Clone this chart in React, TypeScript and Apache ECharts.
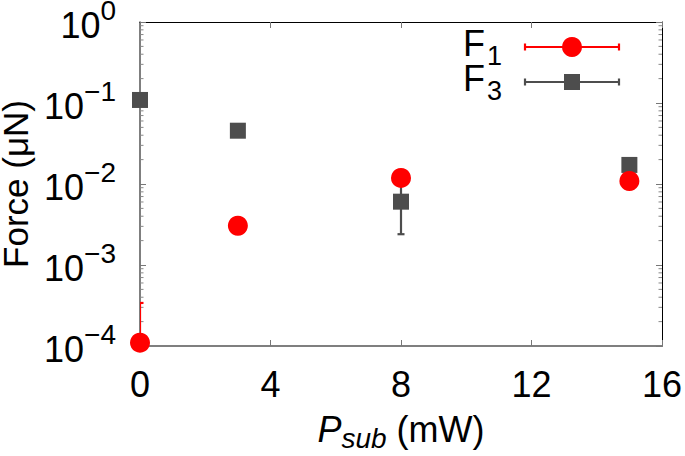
import { useEffect, useRef } from "react";
import * as echarts from "echarts";

// ---- data ----
const xTickValues = [0, 4, 8, 12, 16];
const yDecadeExponents = [-4, -3, -2, -1, 0];
const minorMultipliers = [2, 3, 4, 5, 6, 7, 8, 9];

const f1X = [0, 3, 8, 15];
const f1Y = [1.1e-4, 3.05e-3, 1.19e-2, 1.09e-2];
const f1Low = [1.0e-4, 3.05e-3, 1.19e-2, 1.09e-2];
const f1High = [3.4e-4, 3.05e-3, 1.19e-2, 1.09e-2];

const f3X = [0, 3, 8, 15];
const f3Y = [0.109, 0.0455, 0.00605, 0.0172];
const f3Low = [0.109, 0.0455, 0.0024, 0.0172];
const f3High = [0.109, 0.0455, 0.0097, 0.0172];

const legendNames = ["F", "F"];
const legendSubs = ["1", "3"];

const RED = "#ff0000";
const GRAY = "#4d4d4d";
const FONT = "'Liberation Sans', Arial, Helvetica, sans-serif";

export default function App() {
  const ref = useRef<HTMLDivElement>(null);

  useEffect(() => {
    if (!ref.current) return;
    const chart = echarts.init(ref.current, undefined, { renderer: "svg" });

    const minorTicks: number[][] = [];
    for (let i = 0; i < yDecadeExponents.length - 1; i++) {
      for (const m of minorMultipliers) {
        minorTicks.push([0, m * Math.pow(10, yDecadeExponents[i])]);
      }
    }

    const errorSeries = (xs: number[], lo: number[], hi: number[], color: string) => ({
      type: "custom",
      xAxisIndex: 0,
      yAxisIndex: 0,
      clip: true,
      silent: true,
      data: xs.map((x, i) => [x, lo[i], hi[i]]),
      encode: { x: 0, y: [1, 2] },
      renderItem: (params: any, api: any) => {
        const x = api.value(0);
        const l = api.value(1);
        const h = api.value(2);
        if (l === h) return null;
        const p1 = api.coord([x, l]);
        const p2 = api.coord([x, h]);
        const cap = 3.5;
        const style = { stroke: color, lineWidth: 2.2, fill: null };
        return {
          type: "group",
          children: [
            { type: "line", shape: { x1: p1[0], y1: p1[1], x2: p2[0], y2: p2[1] }, style },
            { type: "line", shape: { x1: p1[0] - cap, y1: p1[1], x2: p1[0] + cap, y2: p1[1] }, style },
            { type: "line", shape: { x1: p2[0] - cap, y1: p2[1], x2: p2[0] + cap, y2: p2[1] }, style },
          ],
        };
      },
      z: 2,
    });

    const yLabel = (v: number) => {
      const e = Math.round(Math.log10(v));
      const s = e < 0 ? "\u2212" + Math.abs(e) : String(e);
      return `{b|10}{s|${s}}`;
    };

    const legendGraphics: any[] = [];
    const legendRows = [47, 82];
    const legendColors = [RED, GRAY];
    legendRows.forEach((y, i) => {
      legendGraphics.push({
        type: "text",
        x: 485,
        y: y - 4,
        style: {
          text: legendNames[i],
          align: "right",
          verticalAlign: "middle",
          fontSize: 36,
          fontFamily: FONT,
          fill: "#000",
        },
      });
      legendGraphics.push({
        type: "text",
        x: 487,
        y: y + 9,
        style: {
          text: legendSubs[i],
          align: "left",
          verticalAlign: "middle",
          fontSize: 27,
          lineHeight: 20,
          fontFamily: FONT,
          fill: "#000",
        },
      });
      const ls = { stroke: legendColors[i], lineWidth: 2.2 };
      legendGraphics.push({ type: "line", shape: { x1: 525, y1: y, x2: 619, y2: y }, style: ls });
      legendGraphics.push({ type: "line", shape: { x1: 525, y1: y - 3.5, x2: 525, y2: y + 3.5 }, style: ls });
      legendGraphics.push({ type: "line", shape: { x1: 619, y1: y - 3.5, x2: 619, y2: y + 3.5 }, style: ls });
      if (i === 0) {
        legendGraphics.push({ type: "circle", shape: { cx: 572, cy: y, r: 10 }, style: { fill: RED } });
      } else {
        legendGraphics.push({ type: "rect", shape: { x: 564, y: y - 8, width: 16, height: 16 }, style: { fill: GRAY } });
      }
    });

    const tickStyle = { color: "#777", width: 1 };

    chart.setOption({
      animation: false,
      backgroundColor: "#fff",
      textStyle: { fontFamily: FONT },
      grid: { left: 140, right: 23, top: 22, bottom: 110, containLabel: false, outerBoundsMode: "none" },
      xAxis: [
        {
          type: "value",
          min: xTickValues[0],
          max: xTickValues[xTickValues.length - 1],
          interval: 4,
          position: "bottom",
          axisLine: { show: true, onZero: false, lineStyle: { color: "#555", width: 1.5 } },
          axisTick: { show: true, inside: true, length: 6, lineStyle: tickStyle },
          splitLine: { show: false },
          axisLabel: { fontSize: 36, color: "#000", margin: 20, fontFamily: FONT },
          name: "{i|P}{is|sub}{n| (mW)}",
          nameLocation: "middle",
          nameGap: 62,
          nameTextStyle: {
            rich: {
              i: { fontSize: 36, lineHeight: 36, fontStyle: "italic", fontFamily: FONT, color: "#000" },
              is: { fontSize: 28, lineHeight: 28, fontStyle: "italic", padding: [18, 0, 0, 0], fontFamily: FONT, color: "#000" },
              n: { fontSize: 36, lineHeight: 36, fontFamily: FONT, color: "#000" },
            },
          },
        },
        {
          type: "value",
          min: xTickValues[0],
          max: xTickValues[xTickValues.length - 1],
          interval: 4,
          position: "top",
          axisLine: { show: true, onZero: false, lineStyle: { color: "#000", width: 1 } },
          axisTick: { show: true, inside: true, length: 6, lineStyle: tickStyle },
          splitLine: { show: false },
          axisLabel: { show: false },
        },
      ],
      yAxis: [
        {
          type: "log",
          logBase: 10,
          min: Math.pow(10, yDecadeExponents[0]),
          max: Math.pow(10, yDecadeExponents[yDecadeExponents.length - 1]),
          position: "left",
          axisLine: { show: true, onZero: false, lineStyle: { color: "#555", width: 1.5 } },
          axisTick: { show: true, inside: true, length: 6, lineStyle: tickStyle },
          splitLine: { show: false },
          axisLabel: {
            margin: 24,
            formatter: yLabel,
            rich: {
              b: { fontSize: 36, lineHeight: 36, padding: [6, 0, 0, 0], fontFamily: FONT, color: "#000" },
              s: { fontSize: 28, lineHeight: 24, padding: [0, 0, 24, 0], fontFamily: FONT, color: "#000" },
            },
          },
          name: "Force (\u03bcN)",
          nameLocation: "middle",
          nameRotate: 90,
          nameGap: 106,
          nameTextStyle: { fontSize: 35, lineHeight: 30, color: "#000", fontFamily: FONT },
        },
        {
          type: "log",
          logBase: 10,
          min: Math.pow(10, yDecadeExponents[0]),
          max: Math.pow(10, yDecadeExponents[yDecadeExponents.length - 1]),
          position: "right",
          axisLine: { show: true, onZero: false, lineStyle: { color: "#000", width: 1 } },
          axisTick: { show: true, inside: true, length: 6, lineStyle: tickStyle },
          splitLine: { show: false },
          axisLabel: { show: false },
        },
      ],
      graphic: legendGraphics,
      series: [
        {
          type: "custom",
          xAxisIndex: 0,
          yAxisIndex: 0,
          silent: true,
          clip: false,
          data: minorTicks,
          renderItem: (params: any, api: any) => {
            const v = api.value(1);
            const p = api.coord([xTickValues[0], v]);
            const q = api.coord([xTickValues[xTickValues.length - 1], v]);
            const st = { stroke: "#888", lineWidth: 1 };
            return {
              type: "group",
              children: [
                { type: "line", shape: { x1: p[0], y1: p[1], x2: p[0] + 3.5, y2: p[1] }, style: st },
                { type: "line", shape: { x1: q[0] - 3.5, y1: q[1], x2: q[0], y2: q[1] }, style: st },
              ],
            };
          },
          z: 1,
        },
        errorSeries(f3X, f3Low, f3High, GRAY),
        {
          type: "scatter",
          name: "F3",
          data: f3X.map((x, i) => [x, f3Y[i]]),
          symbol: "rect",
          symbolSize: 16,
          itemStyle: { color: GRAY, opacity: 1 },
          clip: false,
          z: 3,
        },
        errorSeries(f1X, f1Low, f1High, RED),
        {
          type: "scatter",
          name: "F1",
          data: f1X.map((x, i) => [x, f1Y[i]]),
          symbol: "circle",
          symbolSize: 20,
          itemStyle: { color: RED, opacity: 1 },
          clip: false,
          z: 5,
        },
      ],
    });

    return () => chart.dispose();
  }, []);

  return (
    <div
      ref={ref}
      style={{ position: "fixed", left: 0, top: 0, width: 685, height: 456, background: "#fff" }}
    />
  );
}
